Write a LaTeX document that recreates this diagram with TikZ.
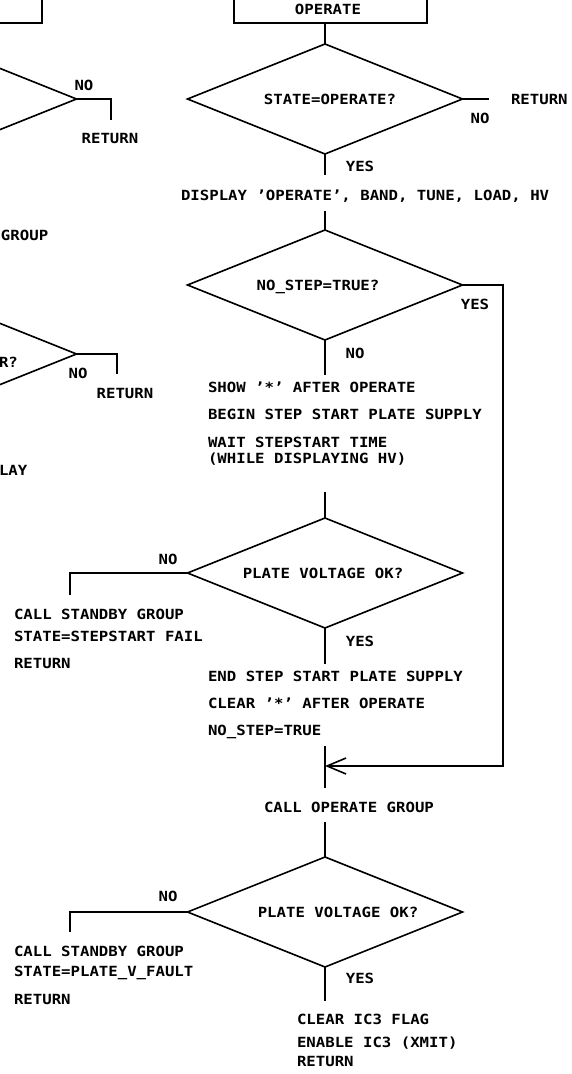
\documentclass[tikz,border=0pt]{standalone}
\usepackage{fontspec}
\newfontfamily\cadfont[FakeStretch=1.12]{DejaVu Sans Mono}
\usetikzlibrary{shapes.geometric,arrows.meta}

\begin{document}
\begin{tikzpicture}[
    x=1pt, y=-1pt,
    line width=1.6pt, line join=miter,
    every node/.style={font=\cadfont\bfseries\fontsize{14}{16}\selectfont, inner sep=0pt, outer sep=0pt, text height=10pt, text depth=0pt},
    decide/.style={draw, shape=diamond, minimum width=275pt, minimum height=110pt},
    blockbox/.style={draw, rectangle, minimum height=46pt},
    note/.style={anchor=west},
    tag/.style={anchor=center},
]
\useasboundingbox (0,0) rectangle (571,1074);
\node[blockbox, minimum width=193pt] (opbox) at (330.5,0) {};
\node[tag] (opt) at (328,9) {OPERATE};
\node[blockbox, minimum width=200pt] (lbox) at (-58,0) {};
\node[decide] (ld1) at (-61,99) {};
\node[decide] (ld2) at (-61,354) {};
\node[decide] (d1) at (325,99) {};
\node[decide] (d2) at (325,285) {};
\node[decide] (d3) at (325,573) {};
\node[decide] (d4) at (325,912) {};
\node[tag] (d1t) at (330,99) {STATE=OPERATE?};
\node[tag] (d2t) at (318,285) {NO\_STEP=TRUE?};
\node[tag] (d3t) at (323,573) {PLATE VOLTAGE OK?};
\node[tag] (d4t) at (338,912) {PLATE VOLTAGE OK?};
\node[note] (lgroup) at (1,235) {GROUP};
\node[note] (lq) at (-1,362) {R?};
\node[note] (llay) at (-1,470) {LAY};
\node[tag] (lno1) at (84,85) {NO};
\node[tag] (lret1) at (110,138) {RETURN};
\node[tag] (lno2) at (78,373) {NO};
\node[tag] (lret2) at (125,393) {RETURN};
\node[tag] (no1) at (480,118) {NO};
\node[note] (ret1) at (511,99) {RETURN};
\node[tag] (yes1) at (360,166) {YES};
\node[note] (disp) at (181,195) {DISPLAY ’OPERATE’, BAND, TUNE, LOAD, HV};
\node[tag] (yes2) at (475,304) {YES};
\node[tag] (no2) at (355,353) {NO};
\node[note] (show) at (208,387) {SHOW ’*’ AFTER OPERATE};
\node[note] (begin) at (208,414) {BEGIN STEP START PLATE SUPPLY};
\node[note] (wait) at (208,442) {WAIT STEPSTART TIME};
\node[note] (while) at (208,458) {(WHILE DISPLAYING HV)};
\node[tag] (no3) at (168,559) {NO};
\node[tag] (yes3) at (360,641) {YES};
\node[note] (stby1) at (14,614) {CALL STANDBY GROUP};
\node[note] (fail1) at (14,636) {STATE=STEPSTART FAIL};
\node[note] (ret3) at (14,663) {RETURN};
\node[note] (endss) at (208,676) {END STEP START PLATE SUPPLY};
\node[note] (clr) at (208,703) {CLEAR ’*’ AFTER OPERATE};
\node[note] (nostep) at (208,730) {NO\_STEP=TRUE};
\node[note] (callop) at (264,807) {CALL OPERATE GROUP};
\node[tag] (no4) at (168,896) {NO};
\node[tag] (yes4) at (360,978) {YES};
\node[note] (stby2) at (14,951) {CALL STANDBY GROUP};
\node[note] (fail2) at (14,971) {STATE=PLATE\_V\_FAULT};
\node[note] (ret4) at (14,999) {RETURN};
\node[note] (clric) at (297,1019) {CLEAR IC3 FLAG};
\node[note] (enic) at (297,1042) {ENABLE IC3 (XMIT)};
\node[note] (ret5) at (297,1061) {RETURN};
\coordinate (ld1end) at (111,120);
\coordinate (ld2end) at (117,374);
\coordinate (d1end) at (489,99);
\coordinate (d3end) at (70,595);
\coordinate (d4end) at (70,932);
\coordinate (loopturn) at (503,766);
\coordinate (merge) at (325,766);
\coordinate (s1) at (325,175);
\coordinate (s2) at (325,211);
\coordinate (s3) at (325,375);
\coordinate (s4) at (325,492);
\coordinate (s5) at (325,664);
\coordinate (s6) at (325,746);
\coordinate (s7) at (325,788);
\coordinate (s8) at (325,822);
\coordinate (s9) at (325,1001);
\draw (d1.north |- opbox.south) -- (d1.north);
\draw (ld1.east) -| (ld1end);
\draw (ld2.east) -| (ld2end);
\draw (d1.east) -- (d1end);
\draw (d1.south) -- (s1);
\draw (s2) -- (d2.north);
\draw (d2.south) -- (s3);
\draw[-{Straight Barb[length=19pt, width=16pt]}] (d2.east) -| (loopturn) -- (merge);
\draw (s4) -- (d3.north);
\draw (d3.west) -| (d3end);
\draw (d3.south) -- (s5);
\draw (s6) -- (s7);
\draw (s8) -- (d4.north);
\draw (d4.west) -| (d4end);
\draw (d4.south) -- (s9);
\end{tikzpicture}
\end{document}
